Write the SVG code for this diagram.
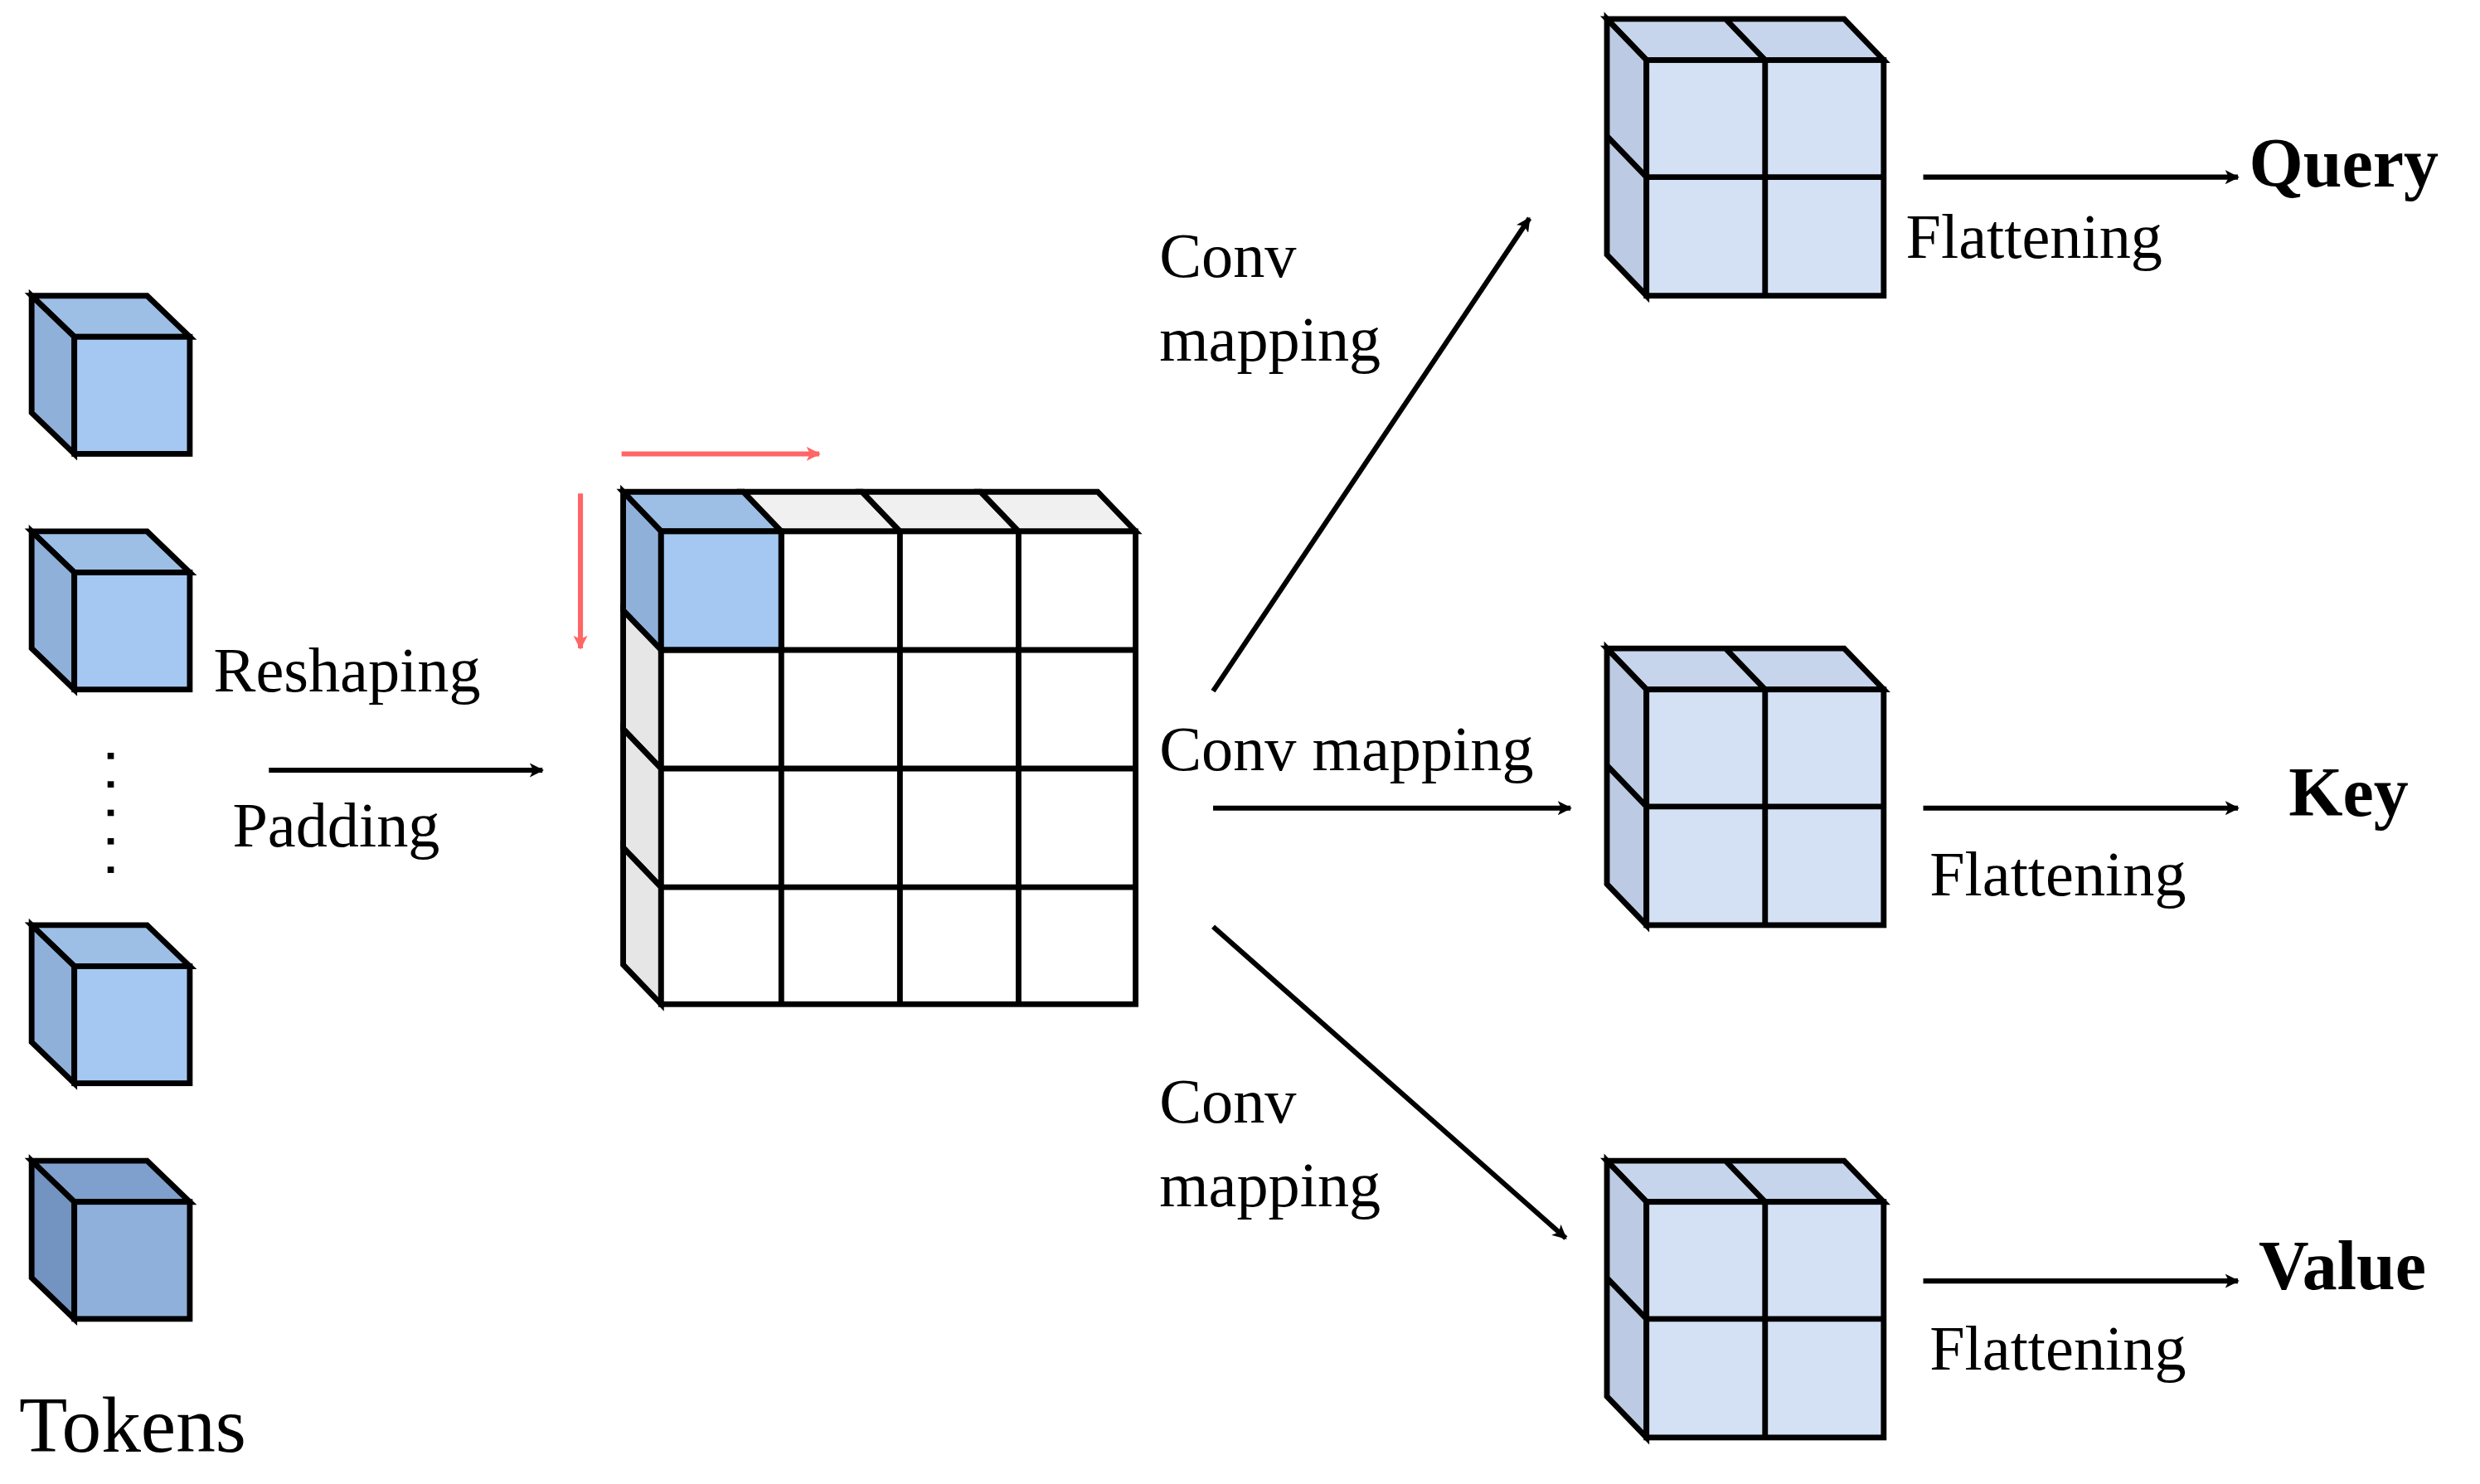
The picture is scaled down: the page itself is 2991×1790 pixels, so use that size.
<svg xmlns="http://www.w3.org/2000/svg" width="2991" height="1790" viewBox="0 0 2991 1790">
<style>
.s{stroke:#000;stroke-width:3.6;stroke-linejoin:miter}
.t{font-family:"Liberation Serif",serif;font-size:40px;fill:#000}
.b{font-family:"Liberation Serif",serif;font-size:44px;font-weight:bold;fill:#000}
.c{stroke:#000;stroke-width:3.2;fill:none}
.r{stroke:#ff6666;stroke-width:3.2;fill:none}
</style>
<defs>
<marker id="ah" viewBox="0 0 10 10" refX="9" refY="5" markerWidth="9" markerHeight="9" markerUnits="userSpaceOnUse" orient="auto"><path d="M0,0 L10,5 L0,10 L2.5,5 Z" fill="#000"/></marker>
<marker id="ar" viewBox="0 0 10 10" refX="9" refY="5" markerWidth="9" markerHeight="9" markerUnits="userSpaceOnUse" orient="auto"><path d="M0,0 L10,5 L0,10 L2.5,5 Z" fill="#ff6666"/></marker>
</defs>
<rect width="2991" height="1790" fill="#fff"/>
<g transform="scale(1.9075)">
<g id="tokens">
<g id="tok1"><path class="s" d="M20,187 L93,187 L120,213 L47,213 Z" fill="#9dbfe6"/><path class="s" d="M20,187 L47,213 L47,287 L20,261 Z" fill="#8fb0d9"/><rect class="s" x="47" y="213" width="73" height="74" fill="#a4c8f2"/></g>
<g id="tok2"><path class="s" d="M20,336 L93,336 L120,362 L47,362 Z" fill="#9dbfe6"/><path class="s" d="M20,336 L47,362 L47,436 L20,410 Z" fill="#8fb0d9"/><rect class="s" x="47" y="362" width="73" height="74" fill="#a4c8f2"/></g>
<g id="tok3"><path class="s" d="M20,585 L93,585 L120,611 L47,611 Z" fill="#9dbfe6"/><path class="s" d="M20,585 L47,611 L47,685 L20,659 Z" fill="#8fb0d9"/><rect class="s" x="47" y="611" width="73" height="74" fill="#a4c8f2"/></g>
<g id="tok4"><path class="s" d="M20,734 L93,734 L120,760 L47,760 Z" fill="#7f9fcc"/><path class="s" d="M20,734 L47,760 L47,834 L20,808 Z" fill="#7393c0"/><rect class="s" x="47" y="760" width="73" height="74" fill="#8fb0da"/></g>
<g fill="#000"><rect x="68" y="476" width="4" height="4"/><rect x="68" y="494" width="4" height="4"/><rect x="68" y="512" width="4" height="4"/><rect x="68" y="530" width="4" height="4"/><rect x="68" y="548" width="4" height="4"/></g>
<text x="12" y="918" class="t" style="font-size:50px">Tokens</text>
</g>
<g id="grid">
<path class="s" d="M394,311 L470,311 L494,336 L418,336 Z" fill="#9dbfe6"/>
<path class="s" d="M470,311 L545,311 L569,336 L494,336 Z" fill="#f0f0f0"/>
<path class="s" d="M545,311 L620,311 L644,336 L569,336 Z" fill="#f0f0f0"/>
<path class="s" d="M620,311 L694,311 L718,336 L644,336 Z" fill="#f0f0f0"/>
<path class="s" d="M394,311 L418,336 L418,411 L394,386 Z" fill="#8fb0d9"/>
<path class="s" d="M394,386 L418,411 L418,486 L394,461 Z" fill="#e6e6e6"/>
<path class="s" d="M394,461 L418,486 L418,561 L394,536 Z" fill="#e6e6e6"/>
<path class="s" d="M394,536 L418,561 L418,635 L394,610 Z" fill="#e6e6e6"/>
<rect class="s" x="418" y="336" width="300" height="299" fill="#fff"/>
<rect class="s" x="418" y="336" width="76" height="75" fill="#a4c8f2"/>
<path class="s" d="M494,336 V635 M569,336 V635 M644,336 V635 M418,411 H718 M418,486 H718 M418,561 H718" fill="none"/>
</g>
<g id="query"><path class="s" d="M1016,12 L1166,12 L1191,38 L1041,38 Z M1091,12 L1116,38" fill="#c6d5ec"/><path class="s" d="M1016,12 L1041,38 L1041,187 L1016,161 Z M1016,86 L1041,112" fill="#bccbe3"/><rect class="s" x="1041" y="38" width="150" height="149" fill="#d4e1f4"/><path class="s" d="M1116,38 V187 M1041,112 H1191" fill="none"/></g>
<g id="key"><path class="s" d="M1016,410 L1166,410 L1191,436 L1041,436 Z M1091,410 L1116,436" fill="#c6d5ec"/><path class="s" d="M1016,410 L1041,436 L1041,585 L1016,559 Z M1016,484 L1041,510" fill="#bccbe3"/><rect class="s" x="1041" y="436" width="150" height="149" fill="#d4e1f4"/><path class="s" d="M1116,436 V585 M1041,510 H1191" fill="none"/></g>
<g id="value"><path class="s" d="M1016,734 L1166,734 L1191,760 L1041,760 Z M1091,734 L1116,760" fill="#c6d5ec"/><path class="s" d="M1016,734 L1041,760 L1041,909 L1016,883 Z M1016,808 L1041,834" fill="#bccbe3"/><rect class="s" x="1041" y="760" width="150" height="149" fill="#d4e1f4"/><path class="s" d="M1116,760 V909 M1041,834 H1191" fill="none"/></g>
<g id="connectors">
<line class="c" x1="170" y1="487" x2="343" y2="487" marker-end="url(#ah)"/>
<line class="r" x1="393" y1="287" x2="518" y2="287" marker-end="url(#ar)"/>
<line class="r" x1="367" y1="312" x2="367" y2="410" marker-end="url(#ar)"/>
<line class="c" x1="767" y1="437" x2="967" y2="138" marker-end="url(#ah)"/>
<line class="c" x1="767" y1="511" x2="993" y2="511" marker-end="url(#ah)"/>
<line class="c" x1="767" y1="586" x2="990" y2="783" marker-end="url(#ah)"/>
<line class="c" x1="1216" y1="112" x2="1415" y2="112" marker-end="url(#ah)"/>
<line class="c" x1="1216" y1="511" x2="1415" y2="511" marker-end="url(#ah)"/>
<line class="c" x1="1216" y1="810" x2="1415" y2="810" marker-end="url(#ah)"/>
</g>
<g id="labels">
<text x="135" y="437" class="t">Reshaping</text>
<text x="147" y="535" class="t">Padding</text>
<text x="733" y="175" class="t">Conv</text>
<text x="733" y="228" class="t">mapping</text>
<text x="733" y="487" class="t">Conv mapping</text>
<text x="733" y="710" class="t">Conv</text>
<text x="733" y="763" class="t">mapping</text>
<text x="1205" y="163" class="t">Flattening</text>
<text x="1220" y="566" class="t">Flattening</text>
<text x="1220" y="866" class="t">Flattening</text>
<text x="1422" y="118" class="b">Query</text>
<text x="1447" y="516" class="b">Key</text>
<text x="1428" y="815" class="b">Value</text>
</g>
</g>
</svg>
